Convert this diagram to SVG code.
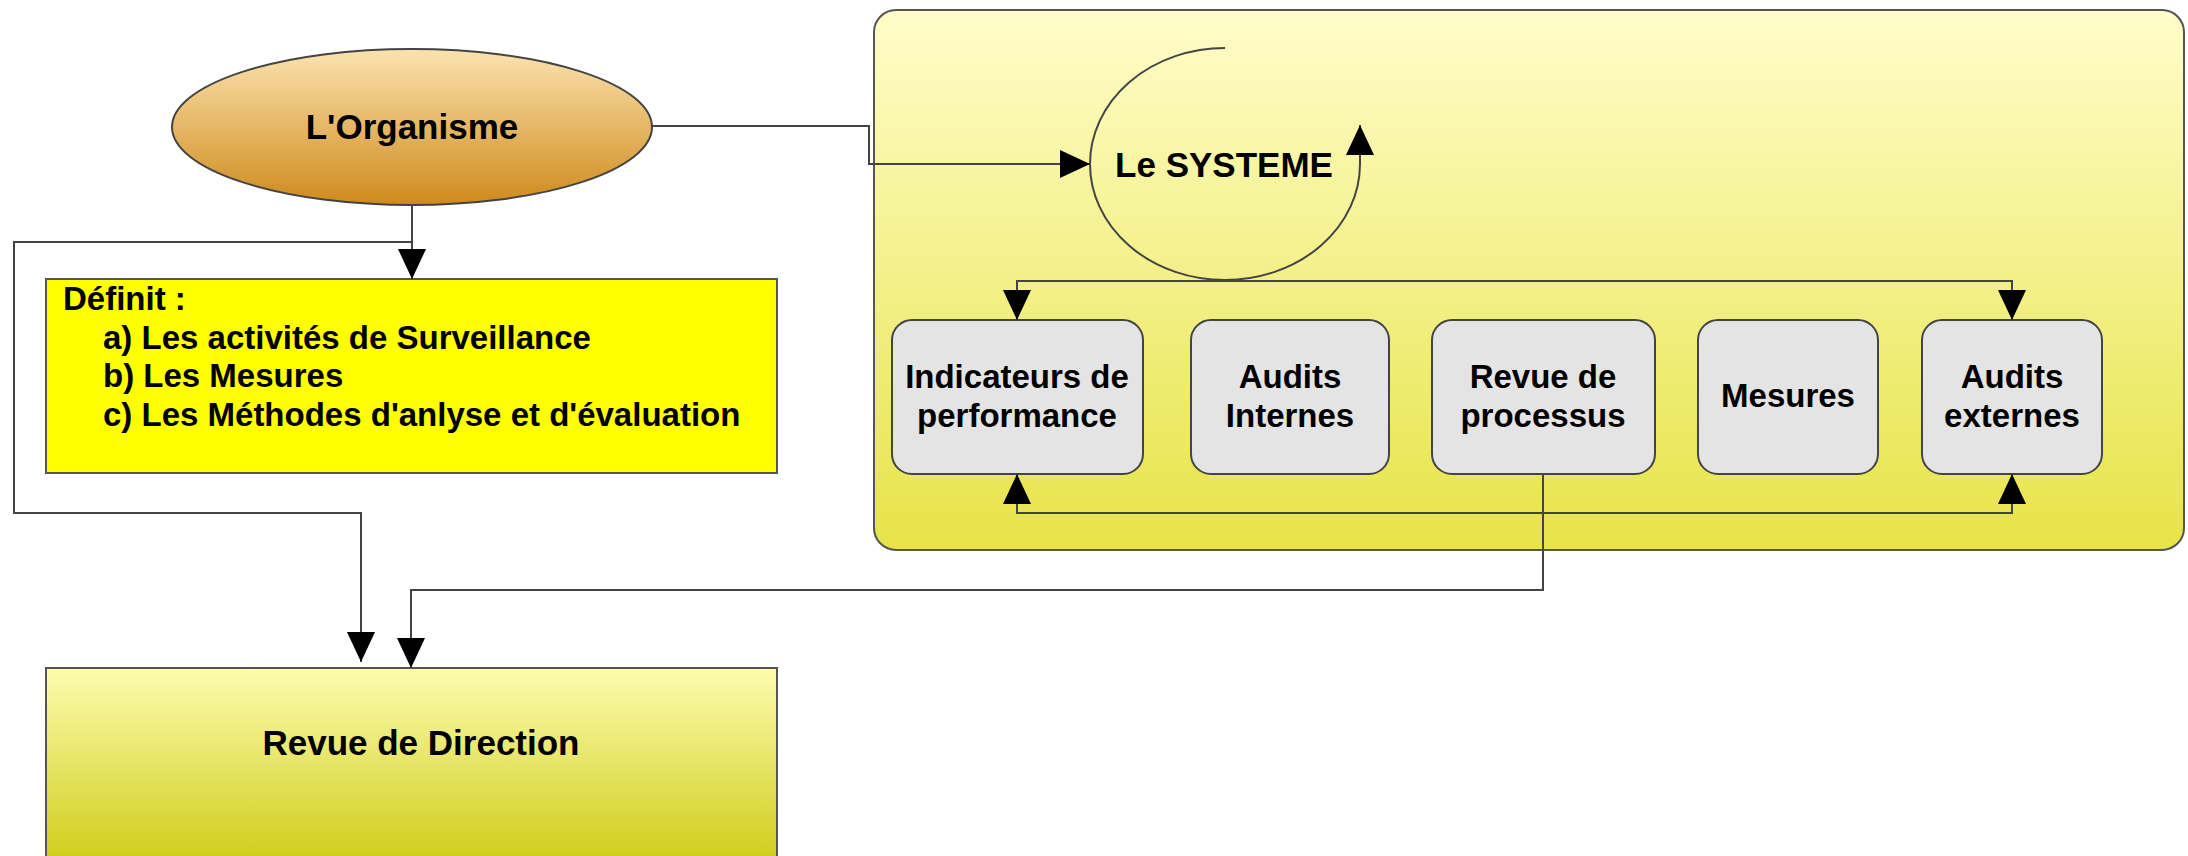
<svg xmlns="http://www.w3.org/2000/svg" width="2188" height="856" viewBox="0 0 2188 856">
<defs>
<linearGradient id="gOrg" x1="0" y1="0" x2="0" y2="1"><stop offset="0" stop-color="#fbe3b0"/><stop offset="1" stop-color="#cf8a1c"/></linearGradient>
<linearGradient id="gSys" x1="0" y1="0" x2="0" y2="1"><stop offset="0" stop-color="#fffdca"/><stop offset="1" stop-color="#e7e348"/></linearGradient>
<linearGradient id="gRev" x1="0" y1="0" x2="0" y2="1"><stop offset="0" stop-color="#fdfcb0"/><stop offset="1" stop-color="#cecb16"/></linearGradient>
<marker id="arr" viewBox="0 0 30 28" refX="30" refY="14" markerWidth="30" markerHeight="28" markerUnits="userSpaceOnUse" orient="auto-start-reverse"><path d="M0,0 L30,14 L0,28 z" fill="#000"/></marker>
</defs>
<style>
text{font-family:"Liberation Sans",Arial,sans-serif;font-weight:bold;fill:#000}
.big{font-size:35px}
.lbl{font-size:33px;text-anchor:middle}
.def{font-size:33px}
.box{fill:#e4e4e4;stroke:#444;stroke-width:2}
.con{fill:none;stroke:#444;stroke-width:2}
</style>

<g id="systeme-container">
<rect x="874" y="10" width="1310" height="540" rx="22" fill="url(#gSys)" stroke="#555" stroke-width="2"/>
</g>

<g id="organisme">
<ellipse cx="412" cy="127" rx="240" ry="78" fill="url(#gOrg)" stroke="#444" stroke-width="2"/>
<text class="big" x="412" y="139" text-anchor="middle">L'Organisme</text>
</g>

<g id="definit">
<rect x="46" y="279" width="731" height="194" fill="#ffff00" stroke="#555" stroke-width="2"/>
<text class="def" x="63" y="310">Définit :</text>
<text class="def" x="103" y="349">a) Les activités de Surveillance</text>
<text class="def" x="103" y="387">b) Les Mesures</text>
<text class="def" x="103" y="426">c) Les Méthodes d'anlyse et d'évaluation</text>
</g>

<g id="revue-direction">
<rect x="46" y="668" width="731" height="200" fill="url(#gRev)" stroke="#555" stroke-width="2"/>
<text class="big" x="421" y="755" text-anchor="middle">Revue de Direction</text>
</g>

<g id="le-systeme">
<path class="con" d="M1225,48 A135,116 0 1 0 1360,164 L1360,125" stroke="#222" marker-end="url(#arr)"/>
<text class="big" x="1224" y="177" text-anchor="middle">Le SYSTEME</text>
</g>

<g id="indicateurs">
<rect class="box" x="892" y="320" width="251" height="154" rx="20"/>
<text class="lbl" x="1017" y="388">Indicateurs de</text>
<text class="lbl" x="1017" y="427">performance</text>
</g>
<g id="audits-internes">
<rect class="box" x="1191" y="320" width="198" height="154" rx="20"/>
<text class="lbl" x="1290" y="388">Audits</text>
<text class="lbl" x="1290" y="427">Internes</text>
</g>
<g id="revue-processus">
<rect class="box" x="1432" y="320" width="223" height="154" rx="20"/>
<text class="lbl" x="1543" y="388">Revue de</text>
<text class="lbl" x="1543" y="427">processus</text>
</g>
<g id="mesures">
<rect class="box" x="1698" y="320" width="180" height="154" rx="20"/>
<text class="lbl" x="1788" y="407">Mesures</text>
</g>
<g id="audits-externes">
<rect class="box" x="1922" y="320" width="180" height="154" rx="20"/>
<text class="lbl" x="2012" y="388">Audits</text>
<text class="lbl" x="2012" y="427">externes</text>
</g>

<g id="connectors">
<path class="con" d="M652,126 H869 V164 H1090" marker-end="url(#arr)"/>
<path class="con" d="M412,205 V279" stroke="#111" marker-end="url(#arr)"/>
<path class="con" d="M412,242 H14 V513 H361 V662" marker-end="url(#arr)"/>
<path class="con" d="M1543,474 V590 H411 V668" marker-end="url(#arr)"/>
<path class="con" d="M1017,320 V281 H2012 V320" marker-start="url(#arr)" marker-end="url(#arr)"/>
<path class="con" d="M1017,474 V513 H2012 V474" marker-start="url(#arr)" marker-end="url(#arr)"/>
</g>
</svg>
